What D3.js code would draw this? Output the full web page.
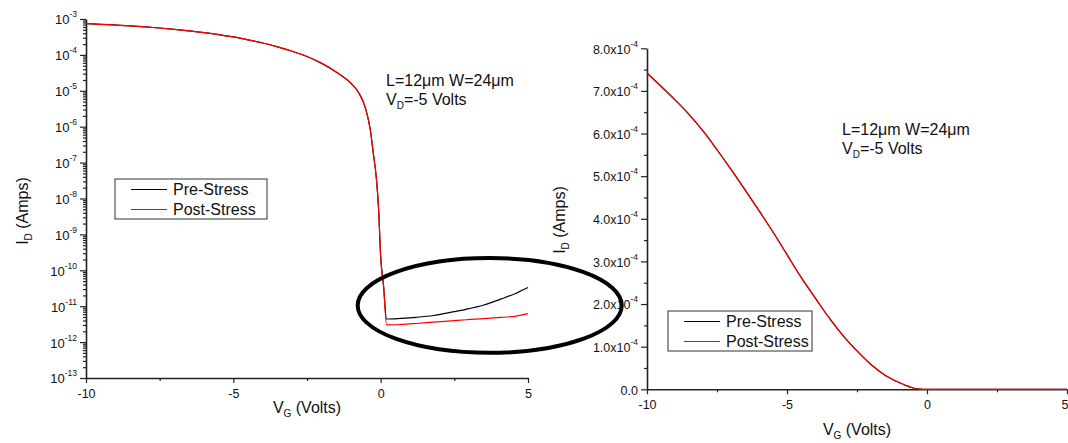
<!DOCTYPE html>
<html>
<head>
<meta charset="utf-8">
<script src="https://cdn.jsdelivr.net/npm/d3@7"></script>
<style>
  body { margin: 0; background: #fff; }
  svg { display: block; font-family: "Liberation Sans", Arial, sans-serif; }
</style>
</head>
<body>
<svg id="chart" width="1068" height="443"></svg>
<script>
// Gate voltage sweep (V) and drain current (A) before / after stress
const vg = [-10, -9.5, -9, -8.5, -8, -7.5, -7, -6.5, -6, -5.5, -5, -4.5, -4, -3.5, -3, -2.5, -2, -1.5, -1,
            -0.75, -0.5, -0.35, -0.25, -0.15, -0.07, 0, 0.1, 0.2, 0.7, 1.2, 1.8, 2.4, 2.9, 3.5, 4.1, 4.6, 5];
const idPre = [7.42e-4, 7.11e-4, 6.79e-4, 6.45e-4, 6.06e-4, 5.62e-4, 5.16e-4, 4.68e-4, 4.19e-4, 3.69e-4,
               3.16e-4, 2.63e-4, 2.15e-4, 1.68e-4, 1.26e-4, 9.0e-5, 5.8e-5, 3.3e-5, 1.6e-5,
               9e-6, 3e-6, 8e-7, 1.8e-7, 4e-8, 5e-9, 2.4e-10, 3.5e-11, 4.4e-12, 4.6e-12, 4.9e-12,
               5.5e-12, 6.8e-12, 8.2e-12, 1.08e-11, 1.6e-11, 2.3e-11, 3.3e-11];
const idPost = [7.42e-4, 7.11e-4, 6.79e-4, 6.45e-4, 6.06e-4, 5.62e-4, 5.16e-4, 4.68e-4, 4.19e-4, 3.69e-4,
                3.16e-4, 2.63e-4, 2.15e-4, 1.68e-4, 1.26e-4, 9.0e-5, 5.8e-5, 3.3e-5, 1.6e-5,
                9e-6, 3e-6, 8e-7, 1.8e-7, 4e-8, 5e-9, 2.4e-10, 3.5e-11, 3.0e-12, 3.1e-12, 3.3e-12,
                3.6e-12, 3.9e-12, 4.2e-12, 4.5e-12, 4.9e-12, 5.3e-12, 6.2e-12];

const seriesNames = ["Pre-Stress", "Post-Stress"];
const seriesColors = ["#000000", "#ff0000"];

// Axis ticks
const vgMajor = [-10, -5, 0, 5];
const vgMinor = [-7.5, -2.5, 2.5];
const logExponents = [-13, -12, -11, -10, -9, -8, -7, -6, -5, -4, -3];
const linMajor = [0, 1e-4, 2e-4, 3e-4, 4e-4, 5e-4, 6e-4, 7e-4, 8e-4];
const linMinor = [0.5e-4, 1.5e-4, 2.5e-4, 3.5e-4, 4.5e-4, 5.5e-4, 6.5e-4, 7.5e-4];

// Off-state region highlighted on the log plot: centre (V, A), radii (V, decades)
const ringCenter = [3.7, 1.05e-11];
const ringRadius = [4.48, 1.32];

const deviceGeom = "L=12\u03bcm W=24\u03bcm";
const drainBias = "=-5 Volts";

const svg = d3.select("#chart");
const series = [idPre, idPost].map((vals, i) => ({
  name: seriesNames[i], color: seriesColors[i],
  points: vg.map((v, j) => [v, vals[j]])
}));

function styleAxis(g) {
  g.select(".domain").attr("stroke", "#222").attr("stroke-width", 1.6);
  g.selectAll(".tick line").attr("stroke", "#222").attr("stroke-width", 1.2);
  g.selectAll("text").attr("fill", "#111");
}

function supLabel(text, base, exp) {
  text.text(null);
  text.append("tspan").text(base);
  text.append("tspan").attr("dy", "-7px").attr("font-size", "8.5px").text(exp);
}

function subLabel(g, base, sub, rest, size) {
  g.append("tspan").text(base);
  g.append("tspan").attr("dy", "4px").attr("font-size", Math.round(size * 0.6) + "px").text(sub);
  g.append("tspan").attr("dy", "-4px").text(rest);
}

function xAxes(panel, x, y0, lastInside) {
  panel.append("g").attr("transform", `translate(0,${y0})`)
    .call(d3.axisBottom(x).tickValues(vgMinor).tickSize(3).tickFormat(""))
    .call(styleAxis).select(".domain").remove();
  panel.append("g").attr("transform", `translate(0,${y0})`)
    .call(d3.axisBottom(x).tickValues(vgMajor).tickSize(5).tickPadding(6).tickSizeOuter(0)
      .tickFormat(d => String(d)))
    .call(g => g.selectAll("text").attr("font-size", "12.5px"))
    .call(g => {
      if (lastInside) g.selectAll(".tick text").filter(d => d === vgMajor[vgMajor.length - 1])
        .attr("text-anchor", "end").attr("dx", "1px");
    })
    .call(styleAxis);
}

function drawCurves(panel, x, y) {
  const line = d3.line().x(d => x(d[0])).y(d => y(d[1])).curve(d3.curveMonotoneX);
  series.forEach(s => {
    panel.append("path").datum(s.points)
      .attr("fill", "none").attr("stroke", s.color).attr("stroke-width", 1.2)
      .attr("d", line);
  });
}

function legend(panel, left, top, width) {
  const g = panel.append("g").attr("transform", `translate(${left},${top})`);
  g.append("rect").attr("width", width).attr("height", 40)
    .attr("fill", "#fff").attr("stroke", "#333").attr("stroke-width", 1);
  series.forEach((s, i) => {
    const yy = 10.5 + i * 20;
    g.append("line").attr("x1", 16).attr("x2", 52).attr("y1", yy).attr("y2", yy)
      .attr("stroke", s.color).attr("stroke-width", 1.2);
    g.append("text").attr("x", 58).attr("y", yy + 5.5).attr("font-size", "16px")
      .attr("fill", "#111").text(s.name);
  });
}

function note(panel, left, top) {
  panel.append("text").attr("x", left).attr("y", top).attr("font-size", "16px")
    .attr("fill", "#111").text(deviceGeom);
  const t = panel.append("text").attr("x", left).attr("y", top + 19).attr("font-size", "16px")
    .attr("fill", "#111");
  subLabel(t, "V", "D", drainBias, 16);
}

function yTitle(panel, xx, yy) {
  const t = panel.append("text").attr("transform", `translate(${xx},${yy}) rotate(-90)`)
    .attr("text-anchor", "middle").attr("font-size", "16px").attr("fill", "#111");
  subLabel(t, "I", "D", " (Amps)", 16);
}

function xTitle(panel, xx, yy) {
  const t = panel.append("text").attr("x", xx).attr("y", yy)
    .attr("text-anchor", "middle").attr("font-size", "16px").attr("fill", "#111");
  subLabel(t, "V", "G", " (Volts)", 16);
}

// ---------- Left panel: log scale ----------
{
  const panel = svg.append("g");
  const x = d3.scaleLinear().domain([-10, 5]).range([86, 528]);
  const y = d3.scaleLog().domain([1e-13, 1e-3]).range([378, 19]);

  const minor = [];
  logExponents.slice(0, -1).forEach(e => { for (let m = 2; m <= 9; m++) minor.push(m * Math.pow(10, e)); });
  panel.append("g").attr("transform", "translate(86,0)")
    .call(d3.axisLeft(y).tickValues(minor).tickSize(3).tickFormat(""))
    .call(styleAxis).select(".domain").remove();
  panel.append("g").attr("transform", "translate(86,0)")
    .call(d3.axisLeft(y).tickValues(logExponents.map(e => Math.pow(10, e)))
      .tickSize(6).tickPadding(3).tickSizeOuter(0))
    .call(styleAxis)
    .call(g => g.selectAll(".tick text").attr("font-size", "13px").attr("dy", "0.38em")
      .each(function(d) { supLabel(d3.select(this), "10", String(Math.round(Math.log10(d)))); }));

  xAxes(panel, x, 378, false);
  drawCurves(panel, x, y);

  // highlight ring around the off-state leakage
  const cx = x(ringCenter[0]), cy = y(ringCenter[1]);
  const rx = x(ringCenter[0] + ringRadius[0]) - cx;
  const ry = cy - y(ringCenter[1] * Math.pow(10, ringRadius[1]));
  panel.append("ellipse").attr("cx", cx).attr("cy", cy).attr("rx", rx).attr("ry", ry)
    .attr("fill", "none").attr("stroke", "#000").attr("stroke-width", 4);

  legend(panel, 115, 179, 152);
  note(panel, 386, 86);
  yTitle(panel, 28, 211);
  xTitle(panel, 307, 413);
}

// ---------- Right panel: linear scale ----------
{
  const panel = svg.append("g");
  const x = d3.scaleLinear().domain([-10, 5]).range([647, 1067]);
  const y = d3.scaleLinear().domain([0, 8e-4]).range([389.3, 48.3]);

  panel.append("g").attr("transform", "translate(647,0)")
    .call(d3.axisLeft(y).tickValues(linMinor).tickSize(3).tickFormat(""))
    .call(styleAxis).select(".domain").remove();
  panel.append("g").attr("transform", "translate(647,0)")
    .call(d3.axisLeft(y).tickValues(linMajor).tickSize(6).tickPadding(3).tickSizeOuter(0))
    .call(styleAxis)
    .call(g => g.selectAll(".tick text").attr("font-size", "12.5px").attr("dy", "0.38em")
      .each(function(d) {
        if (d === 0) d3.select(this).text("0.0");
        else supLabel(d3.select(this), (d * 1e4).toFixed(1) + "x10", "-4");
      }));

  xAxes(panel, x, 389.3, true);
  drawCurves(panel, x, y);

  legend(panel, 668, 311, 144);
  note(panel, 842, 135);
  yTitle(panel, 565, 220);
  xTitle(panel, 857, 435);
}
</script>
</body>
</html>
